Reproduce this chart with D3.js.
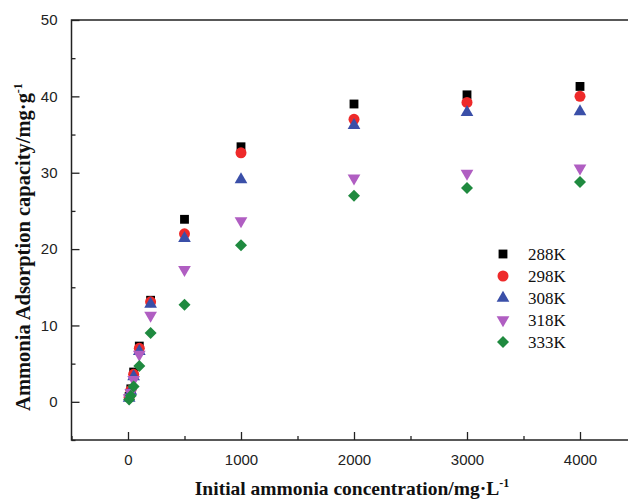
<!DOCTYPE html>
<html>
<head>
<meta charset="utf-8">
<script src="https://cdn.jsdelivr.net/npm/d3@7"></script>
<style>
body { margin: 0; background: #fff; }
svg { display: block; }
</style>
</head>
<body>
<svg id="chart" width="628" height="500"></svg>
<script>
const concentrations = [10, 25, 50, 100, 200, 500, 1000, 2000, 3000, 4000];
const seriesNames = ["288K", "298K", "308K", "318K", "333K"];
const q288 = [0.7, 1.7, 3.9, 7.3, 13.3, 23.9, 33.4, 39.0, 40.2, 41.3];
const q298 = [0.6, 1.5, 3.6, 7.0, 13.1, 22.0, 32.6, 37.0, 39.2, 40.0];
const q308 = [0.5, 1.4, 3.3, 6.6, 12.8, 21.4, 29.1, 36.2, 37.9, 38.0];
const q318 = [0.5, 1.2, 2.9, 6.2, 11.3, 17.3, 23.7, 29.3, 29.9, 30.6];
const q333 = [0.3, 0.8, 2.0, 4.7, 9.0, 12.7, 20.5, 27.0, 28.0, 28.8];
const xTicks = [0, 1000, 2000, 3000, 4000];
const yTicks = [0, 10, 20, 30, 40, 50];

const seriesValues = [q288, q298, q308, q318, q333];
const colors = ["#000000", "#ee2a2a", "#3a4fa8", "#b05ec2", "#1f8a3f"];
const shapes = [
  {type: d3.symbolSquare, size: 78, rot: 0},
  {type: d3.symbolCircle, size: 95, rot: 0},
  {type: d3.symbolTriangle, size: 70, rot: 0},
  {type: d3.symbolTriangle, size: 70, rot: 180},
  {type: d3.symbolSquare, size: 72, rot: 45}
];

const svg = d3.select("#chart");
const pL = 71.5, pT = 20, pR = 636.5, pB = 440;
const x = d3.scaleLinear().domain([-500, 4500]).range([pL, pR]);
const y = d3.scaleLinear().domain([-5, 50]).range([pB, pT]);

// frame
svg.append("rect").attr("x", pL).attr("y", pT)
  .attr("width", pR - pL).attr("height", pB - pT)
  .attr("fill", "none").attr("stroke", "#222").attr("stroke-width", 1.5);

// x axis
const xAxis = d3.axisBottom(x).tickValues(xTicks).tickSize(-8).tickPadding(14)
  .tickFormat(d3.format("d"));
const gx = svg.append("g").attr("transform", `translate(0,${pB})`).call(xAxis);
gx.select(".domain").remove();
gx.selectAll("line").attr("stroke", "#222").attr("stroke-width", 1.3);
gx.selectAll("text").attr("font-family", "Liberation Sans, Arial, sans-serif")
  .attr("font-size", 15).attr("fill", "#222");
svg.append("g").attr("transform", `translate(0,${pB})`)
  .call(d3.axisBottom(x).tickValues([-500, 500, 1500, 2500, 3500]).tickSize(-4).tickFormat(""))
  .call(g => g.select(".domain").remove())
  .selectAll("line").attr("stroke", "#222").attr("stroke-width", 1.3);

// y axis
const yAxis = d3.axisLeft(y).tickValues(yTicks).tickSize(-8).tickPadding(14);
const gy = svg.append("g").attr("transform", `translate(${pL},0)`).call(yAxis);
gy.select(".domain").remove();
gy.selectAll("line").attr("stroke", "#222").attr("stroke-width", 1.3);
gy.selectAll("text").attr("font-family", "Liberation Sans, Arial, sans-serif")
  .attr("font-size", 15).attr("fill", "#222");
svg.append("g").attr("transform", `translate(${pL},0)`)
  .call(d3.axisLeft(y).tickValues([-5, 5, 15, 25, 35, 45]).tickSize(-4).tickFormat(""))
  .call(g => g.select(".domain").remove())
  .selectAll("line").attr("stroke", "#222").attr("stroke-width", 1.3);

// axis titles
const xt = svg.append("text").attr("x", 352).attr("y", 495).attr("text-anchor", "middle")
  .attr("font-family", "Liberation Serif, Times New Roman, serif").attr("font-weight", "bold")
  .attr("font-size", 19.5).attr("fill", "#111");
xt.append("tspan").text("Initial ammonia concentration/mg·L");
xt.append("tspan").attr("dy", -8).attr("font-size", 12).text("-1");

const yt = svg.append("text").attr("transform", "translate(30,247) rotate(-90)")
  .attr("text-anchor", "middle")
  .attr("font-family", "Liberation Serif, Times New Roman, serif").attr("font-weight", "bold")
  .attr("font-size", 20.5).attr("fill", "#111");
yt.append("tspan").text("Ammonia Adsorption capacity/mg·g");
yt.append("tspan").attr("dy", -8).attr("font-size", 12).text("-1");

// points
seriesValues.forEach((vals, i) => {
  const sh = shapes[i];
  const sym = d3.symbol().type(sh.type).size(sh.size);
  svg.append("g").selectAll("path")
    .data(concentrations.map((c, j) => ({c, v: vals[j]})))
    .join("path")
    .attr("d", sym)
    .attr("transform", d => `translate(${x(d.c)},${y(d.v)}) rotate(${sh.rot})`)
    .attr("fill", colors[i]);
});

// legend
const lg = svg.append("g");
seriesNames.forEach((name, i) => {
  const sh = shapes[i];
  const yy = 254 + i * 22;
  lg.append("path").attr("d", d3.symbol().type(sh.type).size(sh.size))
    .attr("transform", `translate(503,${yy}) rotate(${sh.rot})`)
    .attr("fill", colors[i]);
  lg.append("text").attr("x", 528).attr("y", yy + 6)
    .attr("font-family", "Liberation Serif, Times New Roman, serif")
    .attr("font-size", 17).attr("fill", "#111").text(name);
});
</script>
</body>
</html>
